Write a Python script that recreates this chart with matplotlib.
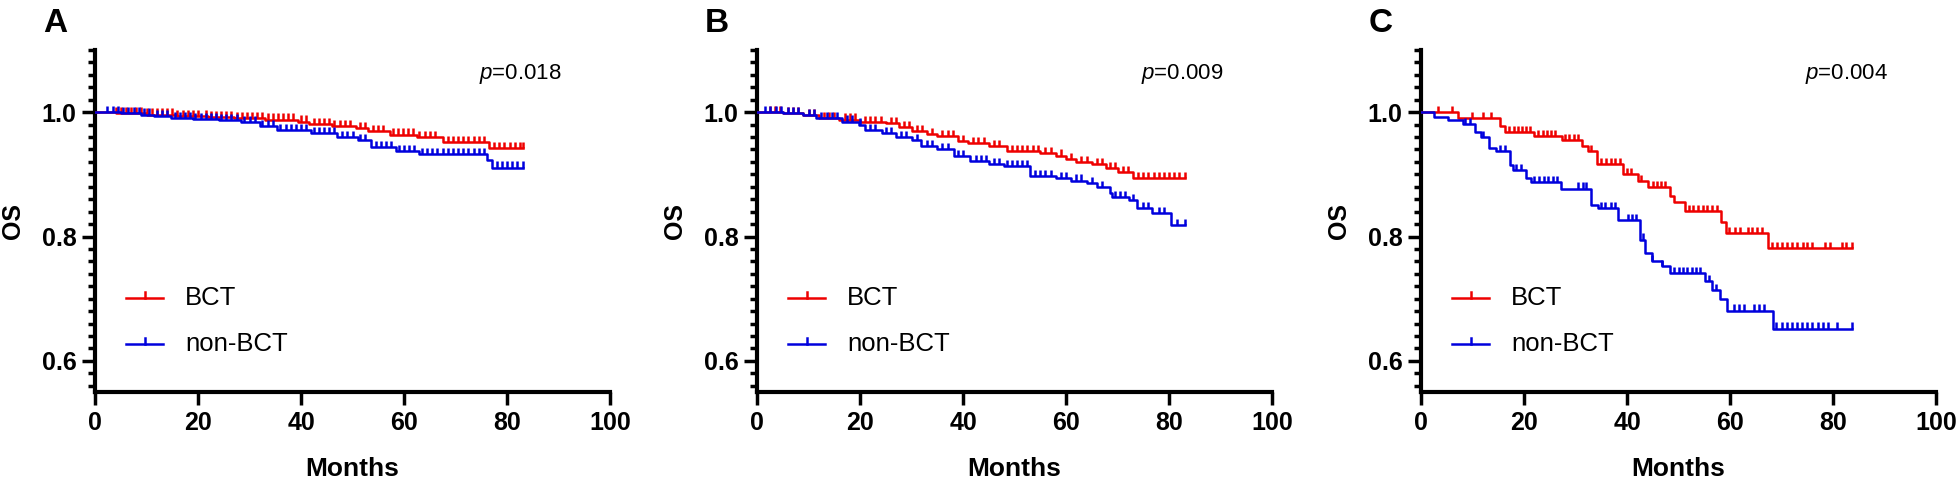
import numpy as np
import matplotlib
matplotlib.use("Agg")
from matplotlib import pyplot as plt
from matplotlib.ticker import MultipleLocator

plt.rcParams['font.family'] = ['Liberation Sans', 'DejaVu Sans']
plt.rcParams['mathtext.fontset'] = 'custom'
plt.rcParams['mathtext.rm'] = 'Liberation Sans'
plt.rcParams['mathtext.it'] = 'Liberation Sans:italic'

# ---------------- data ----------------
panel_labels = ["A", "B", "C"]
group_labels = ["BCT", "non-BCT"]
p_values = ["0.018", "0.009", "0.004"]
x_ticks = [0, 20, 40, 60, 80, 100]
y_ticks = [0.6, 0.8, 1.0]

# panel A
A_bct_t = [4, 10, 16, 22, 27, 33, 39.5, 41.6, 46, 50.6, 53, 57.2, 62.5, 67.5, 76.5]
A_bct_s = [0.998, 0.996, 0.994, 0.992, 0.990, 0.988, 0.985, 0.981, 0.977, 0.974,
           0.969, 0.964, 0.960, 0.952, 0.942]
A_bct_c = [4, 5, 6, 7, 8, 9, 10, 11, 12, 13, 14, 15, 16, 17, 18, 19, 20, 21.5, 22.5,
           23.5, 24.5, 25.5, 26.5, 27.5, 28.5, 29.5, 30.5, 31.5, 32.5, 33.5, 34.5,
           35.5, 36.5, 37.5, 38.5, 40, 41, 42.5, 43.5, 44.5, 45.5, 46.5, 47.5, 48.5,
           49.5, 51.5, 52.5, 54, 55, 56, 57.8, 58.8, 59.8, 60.8, 61.8, 63, 64, 65, 66,
           68.5, 69.5, 70.5, 71.5, 72.5, 73.5, 74.5, 75.5, 77.5, 78.5, 79.5, 80.5,
           81.5, 82.5, 83.1]
A_non_t = [5, 9, 11.5, 14.8, 19, 24, 28.4, 32, 35.4, 42, 47, 51, 53.5, 58.4, 63,
           76.1, 77]
A_non_s = [0.998, 0.996, 0.994, 0.991, 0.989, 0.987, 0.984, 0.977, 0.971, 0.966,
           0.960, 0.955, 0.944, 0.938, 0.932, 0.923, 0.911]
A_non_c = [2.4, 3.4, 4.4, 5.4, 6.5, 7.5, 8.5, 9.5, 10.5, 12, 13, 14, 15.5, 16.5,
           17.5, 18.5, 19.5, 20.5, 21.5, 22.5, 23.5, 24.5, 25.5, 26.5, 27.5, 29, 30,
           31, 32.5, 33.5, 34.5, 36, 37, 38, 39, 40, 41, 42.5, 43.5, 44.5, 45.5, 46.5,
           48, 49, 50, 51.5, 52.5, 54.5, 55.5, 56.5, 57.5, 59, 60, 61, 62, 63.5, 64.5,
           65.5, 66.5, 67.5, 68.5, 69.5, 70.5, 71.5, 72.5, 73.5, 74.5, 75.5, 78, 79,
           80, 81, 82, 83.1]

# panel B
B_bct_t = [5, 9, 12, 16, 20, 25, 27.5, 30, 33, 35, 39, 41, 45, 48.5, 55, 58, 60,
           62, 65, 67.7, 70.1, 73]
B_bct_s = [0.998, 0.995, 0.991, 0.988, 0.984, 0.982, 0.976, 0.970, 0.965, 0.961,
           0.954, 0.950, 0.946, 0.938, 0.934, 0.930, 0.925, 0.920, 0.916, 0.910,
           0.904, 0.894]
B_bct_c = [2.5, 3.5, 4.5, 6, 7, 8, 10, 11, 13, 14, 15, 17, 18, 19, 21, 22, 23, 24,
           26, 27, 28.5, 29.5, 31, 32, 34, 36, 37, 38, 40, 42, 43, 44, 46, 47, 49.5,
           50.5, 51.5, 52.5, 53.5, 54.5, 56, 57, 59, 61, 63, 64, 66, 67, 68.5, 69.5,
           71, 72, 74, 75, 76, 77, 78, 79, 80, 81, 82, 83.2]
B_non_t = [5, 9, 11.4, 16.5, 19.8, 21, 24.3, 27, 30, 31.8, 35, 38.2, 41.4, 45, 47.9,
           53, 58, 61, 64, 66, 68.5, 68.9, 72.2, 73.8, 76.7, 80.4]
B_non_s = [0.998, 0.995, 0.990, 0.985, 0.980, 0.971, 0.966, 0.960, 0.955, 0.945,
           0.940, 0.929, 0.921, 0.917, 0.913, 0.897, 0.894, 0.890, 0.886, 0.880,
           0.870, 0.864, 0.859, 0.846, 0.838, 0.819]
B_non_c = [1.6, 2.6, 3.6, 4.6, 6, 7, 8, 10, 11, 12.5, 13.5, 14.5, 15.5, 17.5, 18.5,
           20, 22, 23, 25, 26, 28, 29, 31, 33, 34, 36, 37, 39, 40, 42.5, 43.5, 44.5,
           46, 47, 48.5, 49.5, 50.5, 51.5, 52.5, 54, 55, 56, 57, 59, 60, 62, 63, 65,
           67, 69.5, 70.5, 71.5, 73, 75, 76, 78, 79, 81.5, 83.2]

# panel C
C_bct_t = [7.1, 15.3, 16.3, 22, 27.3, 31.2, 32.5, 34.1, 39.3, 42.1, 44.1, 48.4,
           49.2, 51.3, 58.2, 59.3, 67.4]
C_bct_s = [0.990, 0.977, 0.968, 0.961, 0.955, 0.946, 0.938, 0.917, 0.901, 0.889,
           0.880, 0.866, 0.855, 0.841, 0.823, 0.806, 0.782]
C_bct_c = [3.3, 6.1, 9.9, 12.1, 13.6, 17, 18, 18.8, 19.6, 20.4, 21.2, 22.7, 23.6,
           24.4, 25.3, 26.1, 28, 28.8, 29.7, 30.5, 33, 35, 35.9, 36.8, 37.7, 38.6,
           40, 40.8, 42.8, 45, 45.8, 46.6, 47.4, 52, 52.9, 53.8, 54.7, 55.6, 56.5,
           57.4, 59.9, 61, 62, 63.4, 64.3, 65.3, 66.3, 68.1, 69.1, 70.1, 71.1, 72.1,
           73.1, 74.1, 75, 75.9, 78.4, 79.4, 81.7, 82.6, 83.6]
C_non_t = [2.5, 5.2, 8.1, 10.4, 11.6, 13.3, 14.6, 17.2, 17.8, 20.4, 21.4, 27.2,
           33.1, 34.3, 38.2, 42.6, 43.4, 44.8, 46.8, 48.4, 55.1, 56.5, 58.1, 59.4,
           68.4]
C_non_s = [0.992, 0.987, 0.981, 0.968, 0.960, 0.943, 0.937, 0.915, 0.907, 0.894,
           0.888, 0.877, 0.851, 0.846, 0.827, 0.795, 0.774, 0.760, 0.752, 0.741,
           0.728, 0.714, 0.700, 0.681, 0.652]
C_non_c = [8.6, 9.6, 12.1, 15.3, 16.3, 18.5, 19.5, 22, 22.9, 23.8, 24.7, 25.6, 26.5,
           30.5, 31.5, 32.1, 35, 35.8, 36.8, 37.6, 40.1, 41, 41.7, 43.1, 44.9, 46.8,
           49.1, 50, 50.9, 51.7, 52.6, 53.4, 54.2, 56, 57.2, 60.7, 61.7, 62.7, 64.6,
           65.6, 66.6, 69, 70, 71, 72, 73, 74, 75, 76, 77, 78, 79, 80.8, 83.6]

panels = [
    [(A_bct_t, A_bct_s, A_bct_c), (A_non_t, A_non_s, A_non_c)],
    [(B_bct_t, B_bct_s, B_bct_c), (B_non_t, B_non_s, B_non_c)],
    [(C_bct_t, C_bct_s, C_bct_c), (C_non_t, C_non_s, C_non_c)],
]

colors = ["#ee0000", "#0000dd"]
LW = 1.8
TICK_H = 0.010   # censor mark height (OS units)


def draw_km(ax, times, surv, cens, color):
    end = max(cens)
    xs = [0] + list(times) + [end]
    ys = [1.0] + list(surv) + [surv[-1]]
    ax.step(xs, ys, where='post', color=color, lw=LW, zorder=3)
    idx = np.searchsorted(times, cens, side='right')
    ys_c = np.where(idx == 0, 1.0, np.array(surv)[np.maximum(idx - 1, 0)])
    ax.vlines(cens, ys_c, ys_c + TICK_H, color=color, lw=LW, zorder=3)


fig = plt.figure(figsize=(19.6, 4.88), dpi=100)
lefts = [95, 757, 1421]
legend_rows = [0.275, 0.14]     # axes fraction, one row per group

for i, left in enumerate(lefts):
    ax = fig.add_axes([left / 1960, 96 / 488, 515 / 1960, 342 / 488])
    for (t, s, c), col in zip(panels[i], colors):
        draw_km(ax, t, s, c, col)

    ax.set_xlim(0, 100)
    ax.set_ylim(0.55, 1.1)
    ax.set_xticks(x_ticks)
    ax.set_yticks(y_ticks)
    ax.set_yticklabels([f"{v:.1f}" for v in y_ticks])
    ax.yaxis.set_minor_locator(MultipleLocator(0.02))
    for sp in ["top", "right"]:
        ax.spines[sp].set_visible(False)
    for sp in ["left", "bottom"]:
        ax.spines[sp].set_linewidth(3)
    ax.tick_params(axis='both', which='major', length=9.5, width=2.5,
                   labelsize=18, pad=4)
    ax.tick_params(axis='y', which='minor', length=5, width=2.5)
    for lab in ax.get_xticklabels() + ax.get_yticklabels():
        lab.set_fontweight('bold')

    ax.set_xlabel("Months", fontsize=19, fontweight='bold')
    ax.xaxis.set_label_coords(0.5, -0.19)
    ax.set_ylabel("OS", fontsize=18, fontweight='bold')
    ax.yaxis.set_label_coords(-0.135, 0.5)

    ax.text(74.5, 1.053, r"$\mathit{p}$=" + p_values[i], fontsize=16,
            va='baseline', ha='left')

    # legend: short line with a censor tick in the middle, then label
    for row_y, col, name in zip(legend_rows, colors, group_labels):
        ax.plot([0.061, 0.132], [row_y, row_y], color=col, lw=LW,
                transform=ax.transAxes, clip_on=False)
        ax.plot([0.0965, 0.0965], [row_y, row_y + 0.017], color=col, lw=LW,
                transform=ax.transAxes, clip_on=False)
        ax.text(0.175, row_y, name, fontsize=18.5, va='center', ha='left',
                transform=ax.transAxes)

    fig.text((left - 52) / 1960, 1 - 8 / 488, panel_labels[i], fontsize=24,
             fontweight='bold', va='top', ha='left')

fig.savefig("out.png", dpi=100)
